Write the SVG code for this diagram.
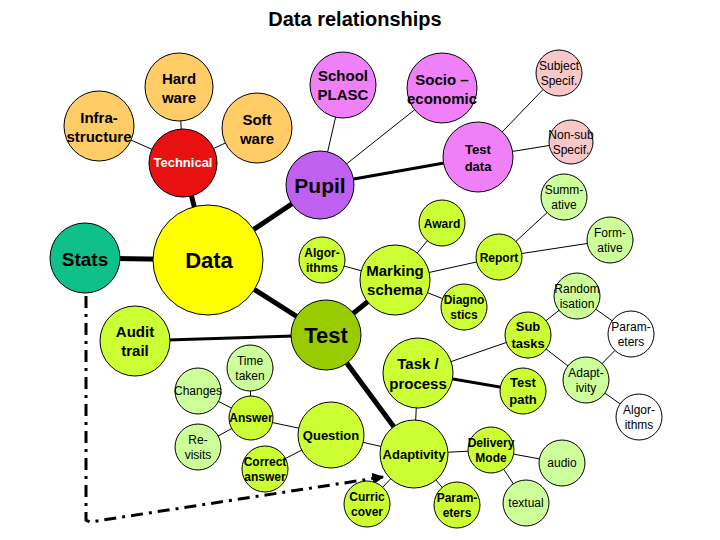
<svg xmlns="http://www.w3.org/2000/svg" width="720" height="540" viewBox="0 0 720 540">
<defs>
<style>
text{font-family:"Liberation Sans",Arial,sans-serif;text-anchor:middle;fill:#000}
circle{stroke:#000;stroke-width:1}
.b{font-weight:bold}
.or{fill:#FFCC66}.pk{fill:#F080F8}.pu{fill:#C060F0}.sp{fill:#F8C8C8}
.yg{fill:#CCFF33}.lg{fill:#CCFF99}.dg{fill:#99CC00}.wh{fill:#fff}
.t1{stroke:#000;stroke-width:1;fill:none}.t3{stroke:#000;stroke-width:3;fill:none}.t5{stroke:#000;stroke-width:5;fill:none}
</style>
<marker id="ah" viewBox="0 0 10 10" refX="9" refY="5" markerWidth="4" markerHeight="4" orient="auto"><path d="M0,0L10,5L0,10z" fill="#000"/></marker>
</defs>
<rect width="720" height="540" fill="#fff"/>
<text x="355" y="26" class="b" font-size="20">Data relationships</text>
<g id="connectors">
<path class="t5" d="M183,163L208,260M85,258L208,260M208,260L320,185M208,260L326,335M326,335L395,280M326,335L414,454"/>
<path class="t3" d="M320,185L478,157M326,335L135,341M418,373L523,391"/>
<path class="t1" d="M183,163L179,87M183,163L99,126M183,163L257,128M320,185L343,85M320,185L442,88M478,157L559,73M478,157L571,142M395,280L442,223M395,280L499,257M395,280L322,260M395,280L464,307M499,257L564,197M499,257L610,240M418,373L528,335M528,335L577,296M528,335L586,380M577,296L631,334M631,334L586,380M586,380L639,417M418,373L414,454M414,454L331,435M414,454L491,450M414,454L367,504M414,454L457,505M491,450L562,463M491,450L526,503M331,435L251,418M331,435L265,469M251,418L250,368M251,418L198,391M251,418L198,447"/>
<path d="M86,296L86,520L90,522L383,477" stroke="#000" stroke-width="3" fill="none" stroke-dasharray="12,6,3,6" marker-end="url(#ah)"/>
</g>
<g id="hardware"><circle cx="179" cy="87" r="34" class="or"/><text x="179" y="84" class="b" font-size="15">Hard</text><text x="179" y="103" class="b" font-size="15">ware</text></g>
<g id="infra"><circle cx="99" cy="126" r="35" class="or"/><text x="99" y="123" class="b" font-size="15">Infra-</text><text x="99" y="142" class="b" font-size="15">structure</text></g>
<g id="software"><circle cx="257" cy="128" r="35" class="or"/><text x="257" y="125" class="b" font-size="15">Soft</text><text x="257" y="144" class="b" font-size="15">ware</text></g>
<g id="technical"><circle cx="183" cy="163" r="34" fill="#E81010"/><text x="183" y="167" class="b" font-size="13" style="fill:#fff">Technical</text></g>
<g id="school"><circle cx="343" cy="85" r="33" class="pk"/><text x="343" y="81" class="b" font-size="15">School</text><text x="343" y="100" class="b" font-size="15">PLASC</text></g>
<g id="socio"><circle cx="442" cy="88" r="35" class="pk"/><text x="442" y="85" class="b" font-size="15">Socio –</text><text x="442" y="104" class="b" font-size="15">economic</text></g>
<g id="testdata"><circle cx="478" cy="157" r="35" class="pk"/><text x="478" y="154" class="b" font-size="13">Test</text><text x="478" y="171" class="b" font-size="13">data</text></g>
<g id="subject"><circle cx="559" cy="73" r="23" class="sp"/><text x="559" y="70" font-size="12">Subject</text><text x="559" y="85" font-size="12">Specif.</text></g>
<g id="nonsub"><circle cx="571" cy="142" r="22" class="sp"/><text x="571" y="139" font-size="12">Non-sub</text><text x="571" y="154" font-size="12">Specif.</text></g>
<g id="pupil"><circle cx="320" cy="185" r="34" class="pu"/><text x="320" y="193" class="b" font-size="21">Pupil</text></g>
<g id="stats"><circle cx="85" cy="258" r="35" fill="#10C08A"/><text x="85" y="266" class="b" font-size="19">Stats</text></g>
<g id="data"><circle cx="208" cy="260" r="55" fill="#FFFF00"/><text x="209" y="268" class="b" font-size="22">Data</text></g>
<g id="summative"><circle cx="564" cy="197" r="23" class="lg"/><text x="564" y="194" font-size="12">Summ-</text><text x="564" y="209" font-size="12">ative</text></g>
<g id="formative"><circle cx="610" cy="240" r="23" class="lg"/><text x="610" y="237" font-size="12">Form-</text><text x="610" y="252" font-size="12">ative</text></g>
<g id="award"><circle cx="442" cy="223" r="23" class="yg"/><text x="442" y="228" class="b" font-size="12">Award</text></g>
<g id="report"><circle cx="499" cy="257" r="23" class="yg"/><text x="499" y="262" class="b" font-size="12">Report</text></g>
<g id="algo1"><circle cx="322" cy="260" r="23" class="yg"/><text x="322" y="257" class="b" font-size="12">Algor-</text><text x="322" y="272" class="b" font-size="12">ithms</text></g>
<g id="marking"><circle cx="395" cy="280" r="35" class="yg"/><text x="395" y="276" class="b" font-size="15">Marking</text><text x="395" y="295" class="b" font-size="15">schema</text></g>
<g id="diagnostics"><circle cx="464" cy="307" r="23" class="yg"/><text x="464" y="304" class="b" font-size="12">Diagno</text><text x="464" y="319" class="b" font-size="12">stics</text></g>
<g id="random"><circle cx="577" cy="296" r="23" class="lg"/><text x="577" y="293" font-size="12">Random</text><text x="577" y="308" font-size="12">isation</text></g>
<g id="test"><circle cx="326" cy="335" r="35" class="dg"/><text x="326" y="343" class="b" font-size="22">Test</text></g>
<g id="subtasks"><circle cx="528" cy="335" r="23" class="yg"/><text x="528" y="331" class="b" font-size="13">Sub</text><text x="528" y="348" class="b" font-size="13">tasks</text></g>
<g id="params1"><circle cx="631" cy="334" r="23" class="wh"/><text x="631" y="331" font-size="12">Param-</text><text x="631" y="346" font-size="12">eters</text></g>
<g id="adapt1"><circle cx="586" cy="380" r="23" class="lg"/><text x="586" y="377" font-size="12">Adapt-</text><text x="586" y="392" font-size="12">ivity</text></g>
<g id="algo2"><circle cx="639" cy="417" r="23" class="wh"/><text x="639" y="414" font-size="12">Algor-</text><text x="639" y="429" font-size="12">ithms</text></g>
<g id="audit"><circle cx="135" cy="341" r="35" class="yg"/><text x="135" y="337" class="b" font-size="15">Audit</text><text x="135" y="356" class="b" font-size="15">trail</text></g>
<g id="task"><circle cx="418" cy="373" r="35" class="yg"/><text x="418" y="369" class="b" font-size="15">Task /</text><text x="418" y="389" class="b" font-size="15">process</text></g>
<g id="testpath"><circle cx="523" cy="391" r="23" class="yg"/><text x="523" y="387" class="b" font-size="13">Test</text><text x="523" y="404" class="b" font-size="13">path</text></g>
<g id="timetaken"><circle cx="250" cy="368" r="23" class="lg"/><text x="250" y="365" font-size="12">Time</text><text x="250" y="380" font-size="12">taken</text></g>
<g id="changes"><circle cx="198" cy="391" r="23" class="lg"/><text x="198" y="395" font-size="12">Changes</text></g>
<g id="answer"><circle cx="251" cy="418" r="22" class="yg"/><text x="251" y="422" class="b" font-size="12">Answer</text></g>
<g id="revisits"><circle cx="198" cy="447" r="23" class="lg"/><text x="198" y="444" font-size="12">Re-</text><text x="198" y="459" font-size="12">visits</text></g>
<g id="correct"><circle cx="265" cy="469" r="23" class="yg"/><text x="265" y="466" class="b" font-size="12">Correct</text><text x="265" y="481" class="b" font-size="12">answer</text></g>
<g id="question"><circle cx="331" cy="435" r="33" class="yg"/><text x="331" y="440" class="b" font-size="13">Question</text></g>
<g id="adaptivity"><circle cx="414" cy="454" r="34" class="yg"/><text x="414" y="459" class="b" font-size="13">Adaptivity</text></g>
<g id="delivery"><circle cx="491" cy="450" r="23" class="yg"/><text x="491" y="447" class="b" font-size="12">Delivery</text><text x="491" y="462" class="b" font-size="12">Mode</text></g>
<g id="audio"><circle cx="562" cy="463" r="23" class="lg"/><text x="562" y="467" font-size="12">audio</text></g>
<g id="textual"><circle cx="526" cy="503" r="23" class="lg"/><text x="526" y="507" font-size="12">textual</text></g>
<g id="params2"><circle cx="457" cy="505" r="23" class="yg"/><text x="457" y="502" class="b" font-size="12">Param-</text><text x="457" y="517" class="b" font-size="12">eters</text></g>
<g id="curric"><circle cx="367" cy="504" r="23" class="yg"/><text x="367" y="501" class="b" font-size="12">Curric</text><text x="367" y="516" class="b" font-size="12">cover</text></g>
</svg>
